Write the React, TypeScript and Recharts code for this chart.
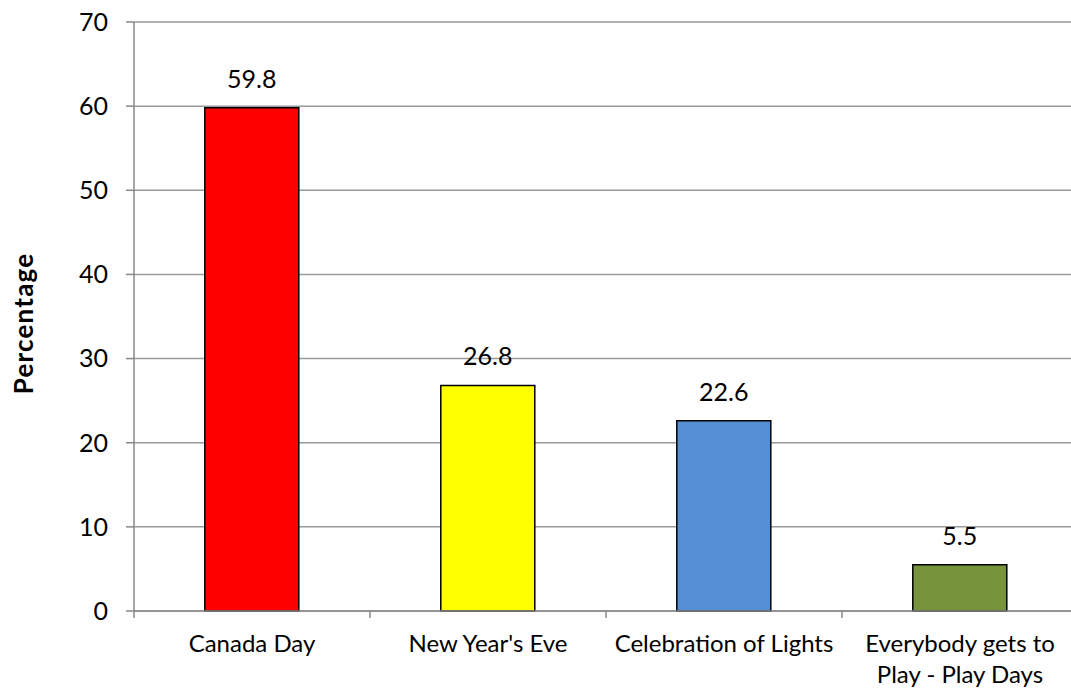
import React from "react";
import { BarChart, Bar, XAxis, YAxis, CartesianGrid, Cell, LabelList } from "recharts";

const categories = ["Canada Day", "New Year's Eve", "Celebration of Lights", "Everybody gets to Play - Play Days"];
const tickLabelLines = [["Canada Day"], ["New Year's Eve"], ["Celebration of Lights"], ["Everybody gets to", "Play - Play Days"]];
const percentages = [59.8, 26.8, 22.6, 5.5];
const barColors = ["#FF0000", "#FFFF00", "#558ED5", "#77933C"];
const yTicks = [0, 10, 20, 30, 40, 50, 60, 70];
const yAxisTitle = "Percentage";

const data = categories.map((name, i) => ({ name, value: percentages[i] }));

const FONT = "Lato, 'Open Sans', sans-serif";
const FS = 25;
const XFS = 24;
const AXIS = "#888888";
const GRID = "#9A9A9A";
const TICK_GAP = 24;

function CategoryTick(props: any) {
  const { x, y, payload, width, visibleTicksCount, index } = props;
  const half = payload && payload.offset ? payload.offset : width / visibleTicksCount / 2;
  const axisY = y - TICK_GAP;
  const lines = tickLabelLines[index] || [String(payload.value)];
  return (
    <g>
      <line x1={x - half} x2={x - half} y1={axisY} y2={axisY + 7} stroke={AXIS} strokeWidth={1.5} />
      {index === visibleTicksCount - 1 ? (
        <line x1={x + half} x2={x + half} y1={axisY} y2={axisY + 7} stroke={AXIS} strokeWidth={1.5} />
      ) : null}
      <text x={x} y={y} textAnchor="middle" fill="#000" fontSize={XFS} fontFamily={FONT}>
        {lines.map((ln: string, i: number) => (
          <tspan key={i} x={x} dy={i === 0 ? "0.71em" : 31}>
            {ln}
          </tspan>
        ))}
      </text>
    </g>
  );
}

function YTitle(props: any) {
  const vb = props.viewBox || { x: 0, y: 0, width: 0, height: 0 };
  const cx = vb.x + 23;
  const cy = vb.y + vb.height / 2 + 7;
  return (
    <text
      x={cx}
      y={cy}
      transform={`rotate(-90, ${cx}, ${cy})`}
      textAnchor="middle"
      dominantBaseline="central"
      fontFamily={FONT}
      fontSize={26}
      letterSpacing={1.2}
      fontWeight="bold"
      fill="#000"
    >
      {yAxisTitle}
    </text>
  );
}

export default function App() {
  return (
    <div
      style={{
        position: "absolute",
        left: 0,
        top: 0,
        width: 1071,
        height: 690,
        overflow: "hidden",
        background: "#fff",
        fontFamily: FONT,
      }}
    >
      <BarChart
        width={1085}
        height={690}
        data={data}
        margin={{ top: 22, right: 7, left: 0, bottom: 0 }}
        barCategoryGap="30%"
      >
        <CartesianGrid vertical={false} stroke={GRID} strokeWidth={1.5} />
        <XAxis
          dataKey="name"
          height={79}
          interval={0}
          tickLine={false}
          tickSize={0}
          tickMargin={TICK_GAP}
          axisLine={{ stroke: AXIS, strokeWidth: 1.5 }}
          tick={<CategoryTick />}
        />
        <YAxis
          width={134}
          domain={[0, 70]}
          ticks={yTicks}
          interval={0}
          tickSize={8}
          tickMargin={18}
          tickLine={{ stroke: AXIS, strokeWidth: 1.5 }}
          axisLine={{ stroke: AXIS, strokeWidth: 1.5 }}
          tick={{ fill: "#000", fontSize: FS, fontFamily: FONT }}
          label={<YTitle />}
        />
        <Bar dataKey="value" stroke="#000" strokeWidth={1.5} isAnimationActive={false}>
          {data.map((d, i) => (
            <Cell key={d.name} fill={barColors[i]} />
          ))}
          <LabelList
            dataKey="value"
            position="top"
            offset={20}
            fill="#000"
            fontSize={FS}
            fontFamily={FONT}
          />
        </Bar>
      </BarChart>
    </div>
  );
}
